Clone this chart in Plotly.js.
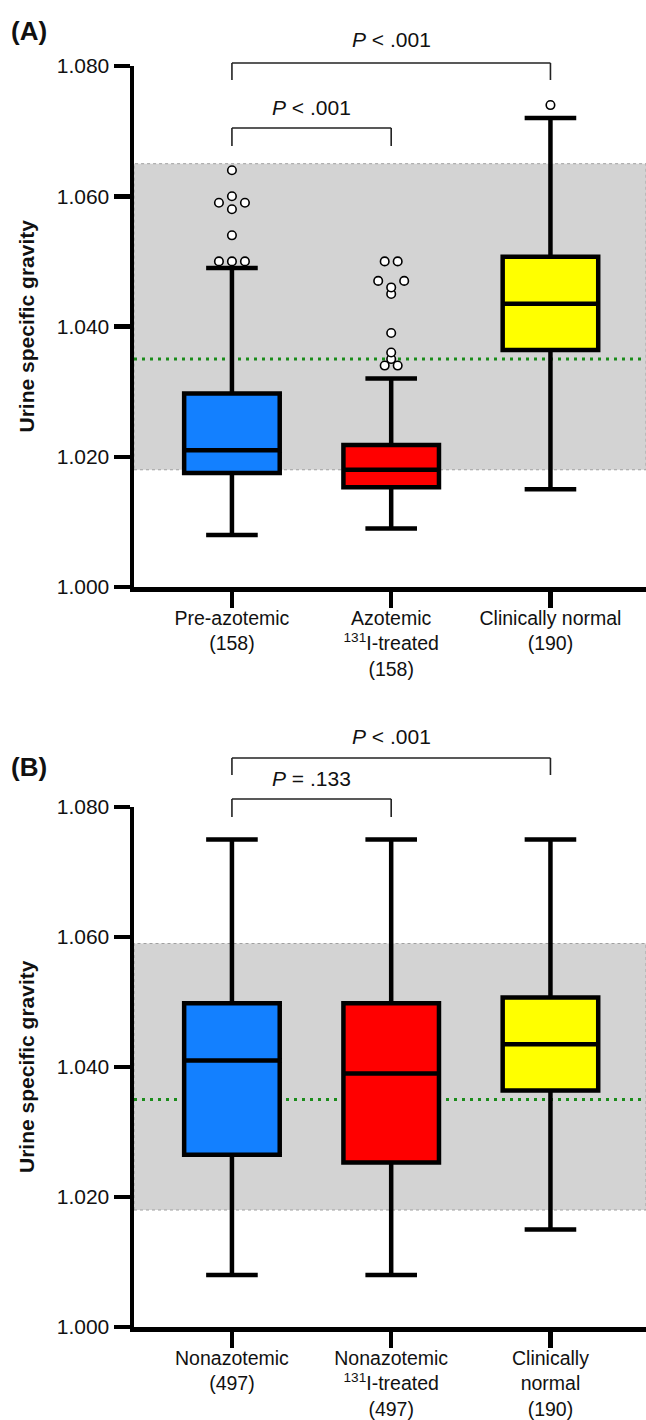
<!DOCTYPE html>
<html>
<head>
<meta charset="utf-8">
<script src="https://cdn.plot.ly/plotly-3.0.1.min.js"></script>
<style>html,body{margin:0;padding:0;background:#fff;}#chart{width:646px;height:1420px;}</style>
</head>
<body>
<div id="chart"></div>
<script>
// ---------- data ----------
const catsA = ['Pre-azotemic<br>(158)', 'Azotemic<br><sup>131</sup>I-treated<br>(158)', 'Clinically normal<br>(190)'];
const catsB = ['Nonazotemic<br>(497)', 'Nonazotemic<br><sup>131</sup>I-treated<br>(497)', 'Clinically<br>normal<br>(190)'];
const yTickVals = [1.000, 1.020, 1.040, 1.060, 1.080];
const yTickText = ['1.000', '1.020', '1.040', '1.060', '1.080'];

const lowA = [1.008, 1.009, 1.015];
const q1A  = [1.0175, 1.0153, 1.0364];
const medA = [1.021, 1.018, 1.0435];
const q3A  = [1.0297, 1.0218, 1.0507];
const highA = [1.049, 1.032, 1.072];
const outPreAzotemic = [1.050, 1.050, 1.050, 1.054, 1.058, 1.059, 1.059, 1.060, 1.064];
const outAzotemicTreated = [1.034, 1.034, 1.035, 1.036, 1.039, 1.045, 1.046, 1.047, 1.047, 1.050, 1.050];
const outNormalA = [1.074];

const lowB = [1.008, 1.008, 1.015];
const q1B  = [1.0265, 1.0253, 1.0364];
const medB = [1.041, 1.039, 1.0435];
const q3B  = [1.0498, 1.0498, 1.0507];
const highB = [1.075, 1.075, 1.075];

const refRangeA = [1.018, 1.065];
const refRangeB = [1.018, 1.059];
const refLine = 1.035;

const pTextsA = ['<i>P</i> &lt; .001', '<i>P</i> &lt; .001'];
const pTextsB = ['<i>P</i> &lt; .001', '<i>P</i> = .133'];

// ---------- styling ----------
const FONT = 'Liberation Sans, Arial, Helvetica, sans-serif';
const colors = ['#1380ff', '#ff0000', '#ffff00'];
const W = 646, H = 1420;
const axLeftPx = 134;
const xRange = [-0.615, 2.6];
const domA = [1 - 587 / H, 1 - 66 / H];
const domB = [1 - 1327 / H, 1 - 807 / H];
const pyp = px => 1 - px / H; // pixel -> paper y

const traces = [];
function addBoxes(xa, ya, low, q1, med, q3, high) {
  for (let i = 0; i < 3; i++) {
    traces.push({
      type: 'box', xaxis: xa, yaxis: ya,
      x: [i], lowerfence: [low[i]], q1: [q1[i]], median: [med[i]], q3: [q3[i]], upperfence: [high[i]],
      width: 0.6, whiskerwidth: 0.54,
      fillcolor: colors[i], line: {color: '#000', width: 4.5},
      boxpoints: false, hoverinfo: 'skip', showlegend: false
    });
  }
}
addBoxes('x', 'y', lowA, q1A, medA, q3A, highA);
addBoxes('x2', 'y2', lowB, q1B, medB, q3B, highB);

// simple symmetric spreading of tied outliers (GraphPad-like)
const xPxPerUnit = (W - axLeftPx) / (xRange[1] - xRange[0]);
const yPxPerUnit = (587 - 66) / 0.08;
const step = 13 / xPxPerUnit;
function swarm(vals, center) {
  const sorted = vals.slice().sort((a, b) => a - b);
  const groups = [];
  sorted.forEach(v => {
    const g = groups.find(g => Math.abs(g.v - v) < 1e-9);
    if (g) g.n++; else groups.push({v: v, n: 1});
  });
  const placed = [];
  groups.forEach(g => {
    let s = 1, offs;
    while (true) {
      offs = [];
      for (let i = 0; i < g.n; i++) offs.push((i - (g.n - 1) / 2) * step * s);
      if (g.n === 1 || s >= 3) break;
      const clash = offs.some(o => placed.some(p =>
        Math.hypot((o - p.o) * xPxPerUnit, (g.v - p.v) * yPxPerUnit) < 10));
      if (!clash) break;
      s++;
    }
    offs.forEach(o => placed.push({o: o, v: g.v}));
  });
  return {x: placed.map(p => center + p.o), y: placed.map(p => p.v)};
}
function addOutliers(xa, ya, vals, center) {
  const s = swarm(vals, center);
  traces.push({
    type: 'scatter', mode: 'markers', xaxis: xa, yaxis: ya,
    x: s.x, y: s.y, cliponaxis: false,
    marker: {symbol: 'circle', size: 8.5, color: '#fff', line: {color: '#000', width: 1.6}},
    hoverinfo: 'skip', showlegend: false
  });
}
addOutliers('x', 'y', outPreAzotemic, 0);
addOutliers('x', 'y', outAzotemicTreated, 1);
addOutliers('x', 'y', outNormalA, 2);

function xAxis(anchor, cats) {
  return {
    domain: [axLeftPx / W, 1], anchor: anchor, range: xRange,
    tickmode: 'array', tickvals: [0, 1, 2], ticktext: cats,
    showline: true, linecolor: '#000', linewidth: 4.5,
    ticks: 'outside', ticklen: 16, tickwidth: 4.5, tickcolor: '#000',
    ticklabelstandoff: -6,
    showgrid: false, zeroline: false,
    tickfont: {family: FONT, size: 19.5, color: '#111'}
  };
}
function yAxis(anchor, dom) {
  return {
    domain: dom, anchor: anchor, range: [1.000, 1.080],
    tickmode: 'array', tickvals: yTickVals, ticktext: yTickText,
    showline: true, linecolor: '#000', linewidth: 4.5,
    ticks: 'outside', ticklen: 16, tickwidth: 4.5, tickcolor: '#000',
    showgrid: false, zeroline: false, ticklabelstandoff: 0,
    tickfont: {family: FONT, size: 21, color: '#111'}
  };
}

function band(xa, ya, rr) {
  return {type: 'rect', xref: xa + ' domain', yref: ya, x0: 0, x1: 1, y0: rr[0], y1: rr[1],
    fillcolor: '#d3d3d3', line: {color: '#a0a0a0', width: 1, dash: 'dot'}, layer: 'below'};
}
function gline(xa, ya) {
  return {type: 'line', xref: xa + ' domain', yref: ya, x0: 0, x1: 1, y0: refLine, y1: refLine,
    line: {color: '#1a8c1a', width: 3, dash: '3px,5px'}, layer: 'below'};
}
function bracket(xa, x0, x1, yTopPx, yLegPx) {
  const ln = {color: '#222', width: 1.6};
  return [
    {type: 'line', xref: xa, yref: 'paper', x0: x0, x1: x1, y0: pyp(yTopPx), y1: pyp(yTopPx), line: ln},
    {type: 'line', xref: xa, yref: 'paper', x0: x0, x1: x0, y0: pyp(yTopPx), y1: pyp(yLegPx), line: ln},
    {type: 'line', xref: xa, yref: 'paper', x0: x1, x1: x1, y0: pyp(yTopPx), y1: pyp(yLegPx), line: ln}
  ];
}

const shapes = [
  band('x', 'y', refRangeA), gline('x', 'y'),
  band('x2', 'y2', refRangeB), gline('x2', 'y2'),
  ...bracket('x', 0, 2, 63, 80), ...bracket('x', 0, 1, 128, 146),
  ...bracket('x2', 0, 2, 758, 775), ...bracket('x2', 0, 1, 799, 817)
];

const pFont = {family: FONT, size: 21, color: '#111'};
function ann(text, xa, x, yPx, font, extra) {
  return Object.assign({text: text, xref: xa, yref: 'paper', x: x, y: pyp(yPx),
    xanchor: 'center', yanchor: 'middle', showarrow: false, font: font}, extra || {});
}
const titleFont = {family: FONT, size: 21, color: '#111', weight: 'bold'};
const panelFont = {family: FONT, size: 26, color: '#111', weight: 'bold'};
const annotations = [
  ann(pTextsA[0], 'x', 1, 40, pFont), ann(pTextsA[1], 'x', 0.5, 107, pFont),
  ann(pTextsB[0], 'x2', 1, 736, pFont), ann(pTextsB[1], 'x2', 0.5, 778, pFont),
  ann('<b>(A)</b>', 'paper', 29 / W, 31, panelFont),
  ann('<b>(B)</b>', 'paper', 29 / W, 767, panelFont),
  ann('<b>Urine specific gravity</b>', 'paper', 26 / W, (66 + 587) / 2, titleFont, {textangle: -90}),
  ann('<b>Urine specific gravity</b>', 'paper', 26 / W, (807 + 1327) / 2, titleFont, {textangle: -90})
];

const layout = {
  width: W, height: H,
  margin: {l: 0, r: 0, t: 0, b: 0},
  paper_bgcolor: '#fff', plot_bgcolor: 'rgba(0,0,0,0)',
  showlegend: false, boxmode: 'overlay',
  xaxis: xAxis('y', catsA), yaxis: yAxis('x', domA),
  xaxis2: xAxis('y2', catsB), yaxis2: yAxis('x2', domB),
  shapes: shapes, annotations: annotations,
  font: {family: FONT}
};
Plotly.newPlot('chart', traces, layout, {displayModeBar: false, staticPlot: true});
</script>
</body>
</html>
